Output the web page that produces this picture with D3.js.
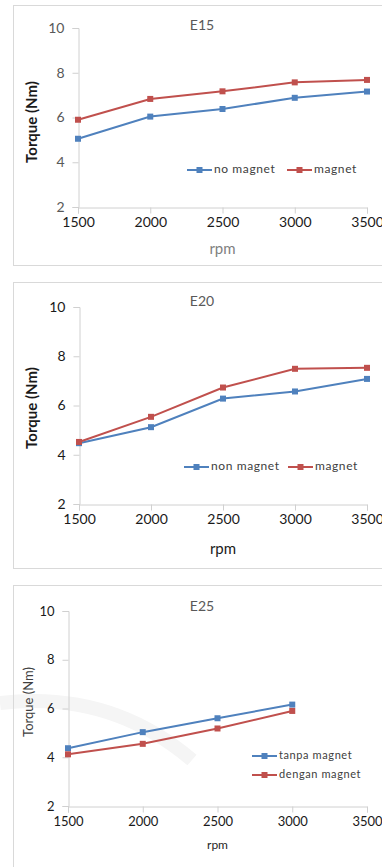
<!DOCTYPE html>
<html>
<head>
<meta charset="utf-8">
<script src="https://cdn.jsdelivr.net/npm/d3@7"></script>
<style>
  body { margin: 0; background: #fff; }
  svg { display: block; font-family: Lato, "Open Sans", sans-serif; }
</style>
</head>
<body>
<svg id="chart" width="382" height="867"></svg>
<script>
// Data
const rpm = [1500, 2000, 2500, 3000, 3500];
const rpmE25 = [1500, 2000, 2500, 3000];
const e15NoMagnet = [5.05, 6.04, 6.38, 6.88, 7.16];
const e15Magnet = [5.9, 6.83, 7.17, 7.57, 7.68];
const e20NonMagnet = [4.47, 5.12, 6.28, 6.57, 7.08];
const e20Magnet = [4.52, 5.54, 6.73, 7.49, 7.53];
const e25Tanpa = [4.37, 5.03, 5.6, 6.16];
const e25Dengan = [4.12, 4.55, 5.18, 5.9];
const yTicks = [2, 4, 6, 8, 10];
const xTicks = [1500, 2000, 2500, 3000, 3500];

const blue = "#4f81bd";
const red = "#c0504d";

const svg = d3.select("#chart");

// faint watermark swoosh behind the last panel
svg.append("path")
  .attr("d", "M0,703 Q110,690 192,760")
  .attr("fill", "none")
  .attr("stroke", "#f5f5f5")
  .attr("stroke-width", 14);

function drawChart(cfg) {
  const g = svg.append("g");

  // outer frame
  g.append("rect")
    .attr("x", cfg.box[0] + 0.5).attr("y", cfg.box[1] + 0.5)
    .attr("width", cfg.box[2]).attr("height", cfg.box[3])
    .attr("fill", "none").attr("stroke", "#d9d9d9");

  const x = d3.scaleLinear().domain([1500, 3500]).range([cfg.left, cfg.right]);
  const y = d3.scaleLinear().domain([2, 10]).range([cfg.bottom, cfg.top]);

  const yAxis = g.append("g")
    .attr("transform", `translate(${cfg.left + 0.5},0)`)
    .call(d3.axisLeft(y).tickValues(yTicks).tickSize(6).tickPadding(8));
  const xAxis = g.append("g")
    .attr("transform", `translate(0,${cfg.bottom + 0.5})`)
    .call(d3.axisBottom(x).tickValues(xTicks).tickSize(6).tickPadding(4).tickFormat(d3.format("d")));

  [yAxis, xAxis].forEach(a => {
    a.select(".domain").attr("stroke", "#d0d0d0");
    a.selectAll(".tick line").attr("stroke", "#d0d0d0");
    a.selectAll("text").attr("font-family", "Lato, sans-serif");
  });
  yAxis.selectAll("text").attr("font-size", cfg.tickSize).attr("fill", cfg.yTickColor);
  xAxis.selectAll("text").attr("font-size", cfg.tickSize).attr("fill", "#1a1a1a");

  // title
  g.append("text")
    .attr("x", 202).attr("y", cfg.titleY)
    .attr("text-anchor", "middle").attr("dominant-baseline", "middle")
    .attr("font-size", 14).attr("fill", "#595959")
    .text(cfg.title);

  // axis titles
  g.append("text")
    .attr("x", (cfg.left + cfg.right) / 2).attr("y", cfg.rpmY)
    .attr("text-anchor", "middle").attr("dominant-baseline", "middle")
    .attr("font-size", cfg.axisTitleSize).attr("fill", cfg.rpmColor)
    .text("rpm");
  g.append("text")
    .attr("transform", `translate(${cfg.torqueX},${cfg.torqueY}) rotate(-90)`)
    .attr("text-anchor", "middle").attr("dominant-baseline", "middle")
    .attr("font-size", cfg.torqueSize).attr("fill", cfg.torqueColor)
    .attr("font-weight", cfg.torqueWeight)
    .text("Torque (Nm)");

  const line = d3.line().x(d => x(d[0])).y(d => y(d[1]));

  cfg.series.forEach(s => {
    const pts = cfg.xs.map((v, i) => [v, s.values[i]]);
    g.append("path")
      .datum(pts)
      .attr("d", line)
      .attr("fill", "none")
      .attr("stroke", s.color)
      .attr("stroke-width", 2);
    g.selectAll(null)
      .data(pts)
      .enter()
      .append("rect")
      .attr("x", d => x(d[0]) - 3)
      .attr("y", d => y(d[1]) - 3)
      .attr("width", 6).attr("height", 6)
      .attr("fill", s.color);

    // legend entry
    const lg = g.append("g").attr("transform", `translate(${s.legend[0]},${s.legend[1]})`);
    lg.append("line").attr("x1", 0).attr("x2", 25).attr("y1", 0).attr("y2", 0)
      .attr("stroke", s.color).attr("stroke-width", 2);
    lg.append("rect").attr("x", 9.5).attr("y", -3).attr("width", 6).attr("height", 6)
      .attr("fill", s.color);
    lg.append("text").attr("x", 27).attr("y", 0)
      .attr("dominant-baseline", "middle")
      .attr("font-size", cfg.legendSize).attr("fill", "#404040")
      .attr("letter-spacing", 0.6)
      .text(s.name);
  });
}

drawChart({
  box: [13, 5, 400, 260],
  left: 78, right: 367, top: 28, bottom: 207,
  xs: rpm, title: "E15", titleY: 26,
  tickSize: 14, yTickColor: "#595959", axisTitleSize: 15,
  rpmY: 250, rpmColor: "#7f7f7f",
  torqueX: 33, torqueY: 122, torqueSize: 15, torqueColor: "#1a1a1a", torqueWeight: "bold",
  legendSize: 12,
  series: [
    { name: "no magnet", values: e15NoMagnet, color: blue, legend: [187, 170] },
    { name: "magnet", values: e15Magnet, color: red, legend: [287, 170] }
  ]
});

drawChart({
  box: [13, 282, 400, 286],
  left: 79, right: 367, top: 307, bottom: 504,
  xs: rpm, title: "E20", titleY: 302,
  tickSize: 14, yTickColor: "#1a1a1a", axisTitleSize: 15,
  rpmY: 550, rpmColor: "#1a1a1a",
  torqueX: 33, torqueY: 408, torqueSize: 15, torqueColor: "#1a1a1a", torqueWeight: "bold",
  legendSize: 12,
  series: [
    { name: "non magnet", values: e20NonMagnet, color: blue, legend: [184, 467] },
    { name: "magnet", values: e20Magnet, color: red, legend: [288, 467] }
  ]
});

drawChart({
  box: [13, 585, 400, 320],
  left: 68, right: 367, top: 611, bottom: 806,
  xs: rpmE25, title: "E25", titleY: 607,
  tickSize: 13, yTickColor: "#1a1a1a", axisTitleSize: 12,
  rpmY: 846, rpmColor: "#262626",
  torqueX: 30, torqueY: 702, torqueSize: 13, torqueColor: "#404040", torqueWeight: "normal",
  legendSize: 11,
  series: [
    { name: "tanpa magnet", values: e25Tanpa, color: blue, legend: [252, 756] },
    { name: "dengan magnet", values: e25Dengan, color: red, legend: [252, 775] }
  ]
});
</script>
</body>
</html>
